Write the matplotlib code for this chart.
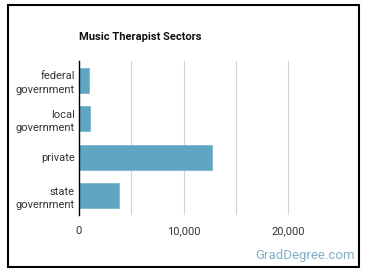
import matplotlib
matplotlib.use("Agg")
import matplotlib.pyplot as plt
from matplotlib.patches import Rectangle
from matplotlib.ticker import FixedLocator, FuncFormatter

categories = ["federal\ngovernment", "local\ngovernment", "private", "state\ngovernment"]
values = [990, 1080, 12730, 3850]
major_ticks = [0, 10000, 20000]
minor_ticks = [5000, 15000]

plt.rcParams['font.family'] = ['Roboto', 'DejaVu Sans']

W, H = 370, 278
fig = plt.figure(figsize=(W / 100, H / 100), dpi=100)
fig.patch.set_facecolor("white")

# outer frame
fig.add_artist(Rectangle((8 / W, 1 - 267 / H), (359 - 8) / W, (267 - 5) / H,
                         transform=fig.transFigure, fill=False, edgecolor="black", linewidth=1.5))

ax = fig.add_axes([79 / W, 1 - 215 / H, 251 / W, 154 / H])
y = list(range(len(categories)))
ax.barh(y, values, height=0.64, color="#5ea6c3", edgecolor="#7db7cf", linewidth=0.6, zorder=3)
ax.set_ylim(len(categories) - 0.5, -0.5)
ax.set_xlim(0, 24000)
ax.set_yticks(y)
ax.set_yticklabels(categories, fontsize=8, color="#333333", linespacing=1.45)
ax.xaxis.set_major_locator(FixedLocator(major_ticks))
ax.xaxis.set_minor_locator(FixedLocator(minor_ticks))
ax.xaxis.set_major_formatter(FuncFormatter(lambda v, p: f"{int(v):,}"))
ax.tick_params(axis="x", which="both", length=0, labelsize=8, labelcolor="#333333", pad=8)
ax.tick_params(axis="y", length=0, pad=3)
ax.grid(axis="x", which="both", color="#d4d4d4", linewidth=0.8, zorder=0)
for s in ["top", "right", "bottom"]:
    ax.spines[s].set_visible(False)
ax.spines["left"].set_color("black")
ax.spines["left"].set_linewidth(1)
ax.spines["left"].set_zorder(4)

fig.text(79 / W, 1 - 37 / H, "Music Therapist Sectors", fontsize=8, fontweight="bold",
         color="#111111", va="center", ha="left")
fig.text(355 / W, 1 - 256 / H, "GradDegree.com", fontsize=9.5, color="#7fb0c8",
         va="center", ha="right")

fig.savefig("out.png", dpi=100)
